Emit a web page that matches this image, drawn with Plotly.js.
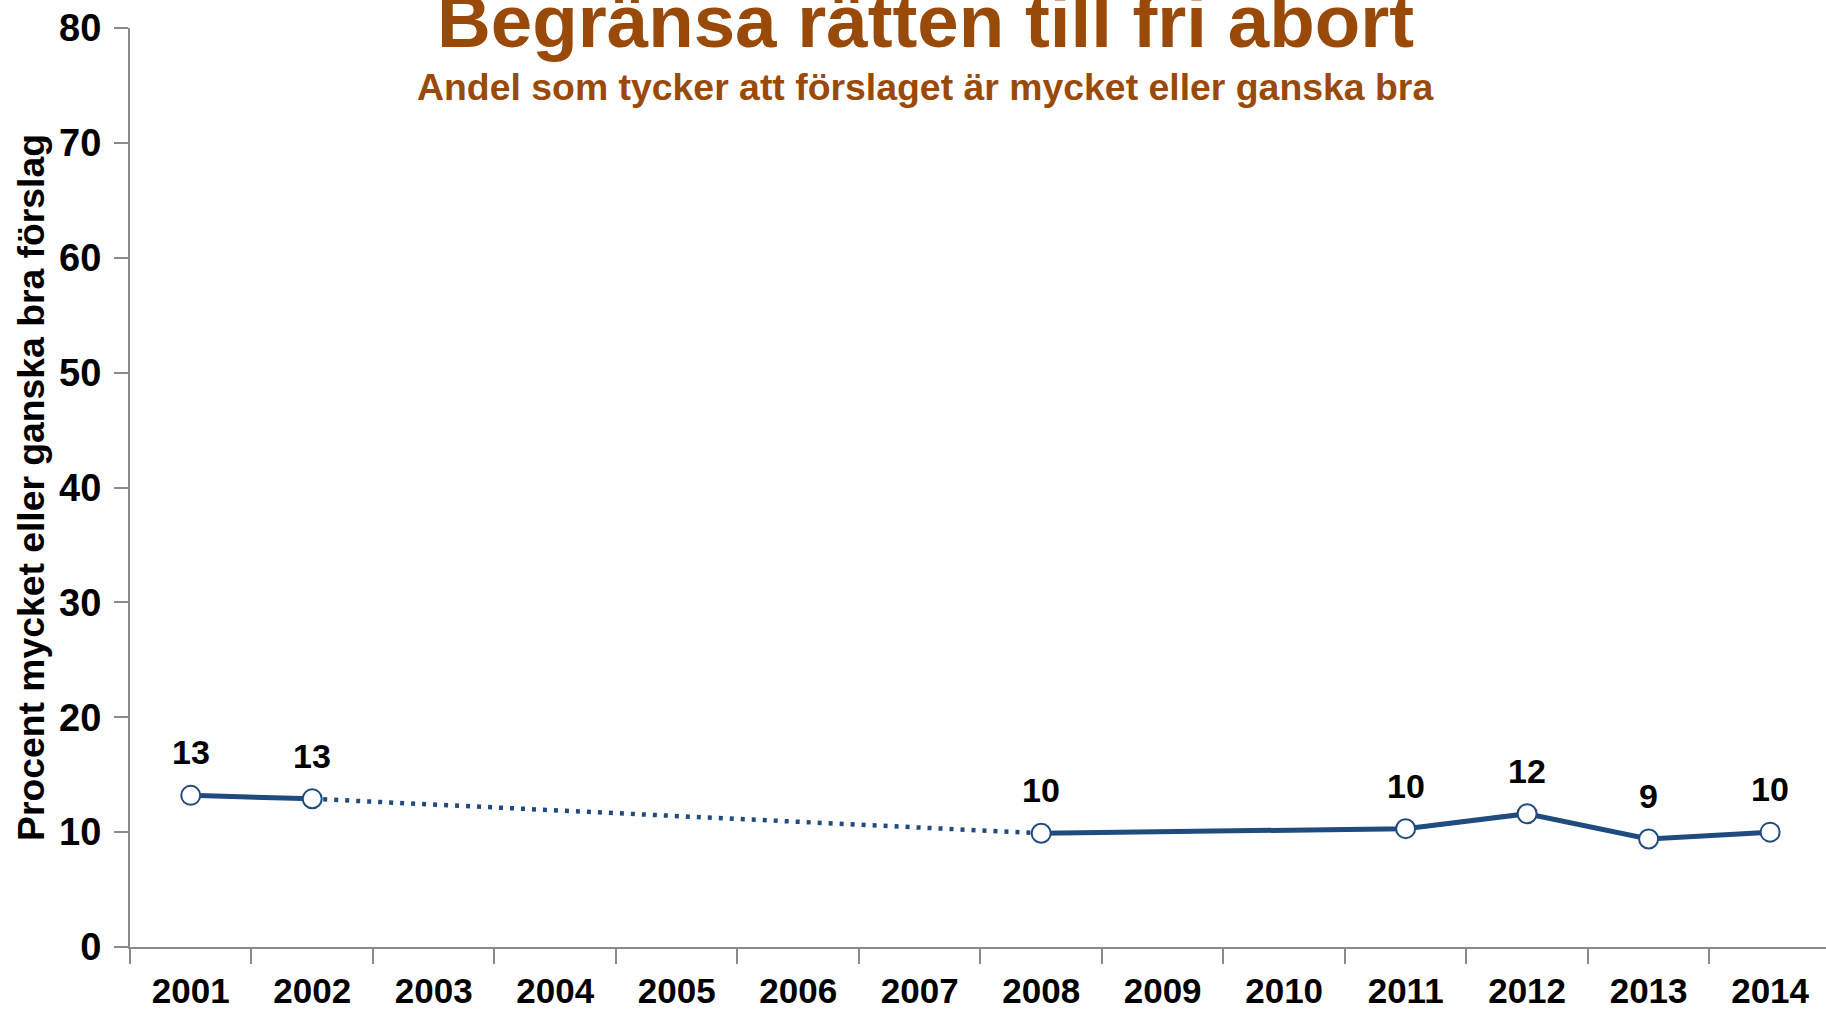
<!DOCTYPE html>
<html>
<head>
<meta charset="utf-8">
<script src="https://cdn.plot.ly/plotly-3.0.1.min.js"></script>
<style>html,body{margin:0;padding:0;background:#fff;}#chart{width:1826px;height:1009px;}</style>
</head>
<body>
<div id="chart"></div>
<script>
// Data
const years = ["2001","2002","2003","2004","2005","2006","2007","2008","2009","2010","2011","2012","2013","2014"];
const surveyYears = ["2001","2002","2008","2011","2012","2013","2014"];
const values = [13.2, 12.9, 9.9, 10.3, 11.6, 9.4, 10.0];
const valueLabels = ["13","13","10","10","12","9","10"];
const titleText = "Begränsa rätten till fri abort";
const subtitleText = "Andel som tycker att förslaget är mycket eller ganska bra";
const yTitle = "Procent mycket eller ganska bra förslag";

const lineColor = "#204B7F";
const brown = "rgb(153,74,8)";
const font = "'Liberation Sans', Arial, sans-serif";

const traces = [
  {x: surveyYears.slice(0,2), y: values.slice(0,2), mode: "lines", line: {color: lineColor, width: 5}, hoverinfo: "skip"},
  {x: surveyYears.slice(1,3), y: values.slice(1,3), mode: "lines", line: {color: lineColor, width: 4.5, dash: "4px,7px"}, hoverinfo: "skip"},
  {x: surveyYears.slice(2), y: values.slice(2), mode: "lines", line: {color: lineColor, width: 5}, hoverinfo: "skip"},
  {x: surveyYears, y: values, mode: "markers",
   marker: {size: 19, color: "#ffffff", line: {color: lineColor, width: 2}}}
];

const annotations = surveyYears.map((yr, i) => ({
  x: years.indexOf(yr), y: values[i], xref: "x", yref: "y", text: "<b>" + valueLabels[i] + "</b>", showarrow: false,
  yshift: 43, yanchor: "middle", xanchor: "center", font: {family: font, size: 34, color: "#000"}
}));
annotations.push({
  xref: "paper", yref: "paper", x: 0.4688, y: 1.0075, xanchor: "center", yanchor: "middle",
  text: "<b>" + titleText + "</b>", showarrow: false, font: {family: font, size: 74.5, color: brown}
});
annotations.push({
  xref: "paper", yref: "paper", x: 0.4688, y: 0.9355, xanchor: "center", yanchor: "middle",
  text: "<b>" + subtitleText + "</b>", showarrow: false, font: {family: font, size: 37.4, color: brown}
});

const layout = {
  width: 1826, height: 1009,
  margin: {l: 130, r: 0, t: 28, b: 62},
  paper_bgcolor: "#fff", plot_bgcolor: "#fff",
  showlegend: false,
  font: {family: font, color: "#000"},
  xaxis: {
    type: "category", categoryorder: "array", categoryarray: years,
    range: [-0.5, 13.46], tickson: "boundaries", ticks: "outside", ticklen: 15, tickwidth: 2, tickcolor: "#8a8a8a",
    showline: true, linecolor: "#8a8a8a", linewidth: 2, showgrid: false, zeroline: false,
    tickfont: {family: font, size: 35, color: "#000", weight: "bold"}, ticklabelstandoff: 12
  },
  yaxis: {
    range: [0, 80], dtick: 10, tick0: 0, ticks: "outside", ticklen: 14, tickwidth: 2, tickcolor: "#8a8a8a",
    showline: true, linecolor: "#8a8a8a", linewidth: 2, showgrid: false, zeroline: false,
    tickfont: {family: font, size: 38, color: "#000", weight: "bold"}, ticklabelstandoff: 5,
    title: {text: "<b>" + yTitle + "</b>", font: {family: font, size: 37.3, color: "#000"}, standoff: 3}
  },
  annotations: annotations
};

Plotly.newPlot("chart", traces, layout, {displayModeBar: false, staticPlot: true});
</script>
</body>
</html>
